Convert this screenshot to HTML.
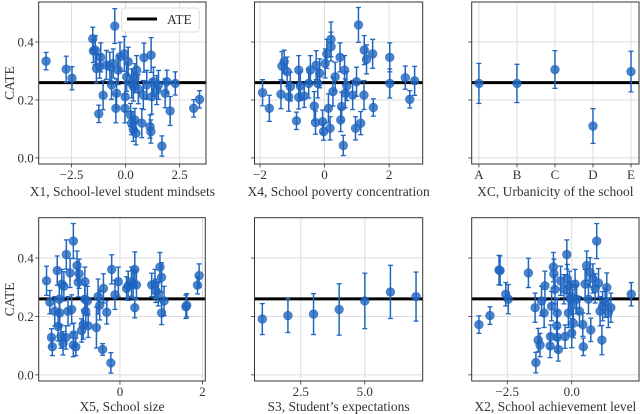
<!DOCTYPE html>
<html><head><meta charset="utf-8"><style>
body{margin:0;background:#fff}
svg{display:block;font-family:"Liberation Serif",serif}
</style></head><body>
<svg id="chart" width="640" height="414" viewBox="0 0 640 414"></svg>
<script>
const ATE = 0.26;
const yTicks = [0.0, 0.2, 0.4];
const yTickLabels = ["0.0", "0.2", "0.4"];
// [x, cate, err]
const x1Data = [[-3.68,0.334,0.03],[-2.75,0.306,0.045],[-2.48,0.275,0.04],[-1.52,0.411,0.04],[-1.49,0.369,0.04],[-1.40,0.372,0.05],[-1.35,0.309,0.05],[-1.24,0.152,0.03],[-1.20,0.315,0.04],[-1.15,0.347,0.05],[-1.04,0.216,0.05],[-0.89,0.321,0.05],[-0.73,0.315,0.05],[-0.50,0.455,0.06],[-0.57,0.326,0.05],[-0.45,0.171,0.05],[-0.42,0.223,0.05],[-0.65,0.252,0.05],[-0.34,0.303,0.05],[-0.26,0.349,0.05],[-0.06,0.359,0.06],[-0.03,0.171,0.05],[-0.02,0.211,0.05],[0.05,0.280,0.05],[0.12,0.332,0.05],[0.23,0.148,0.04],[0.28,0.120,0.04],[0.36,0.097,0.04],[0.43,0.131,0.04],[0.48,0.085,0.04],[0.28,0.257,0.05],[0.36,0.246,0.05],[0.43,0.275,0.05],[0.51,0.303,0.05],[0.59,0.237,0.05],[0.75,0.120,0.05],[0.82,0.217,0.05],[0.85,0.346,0.05],[0.98,0.252,0.05],[1.13,0.108,0.04],[1.17,0.091,0.04],[1.18,0.355,0.06],[1.21,0.211,0.06],[1.29,0.263,0.05],[1.44,0.234,0.05],[1.52,0.252,0.05],[1.68,0.041,0.035],[1.83,0.223,0.05],[1.91,0.263,0.04],[2.06,0.162,0.05],[2.30,0.257,0.04],[3.15,0.171,0.03],[3.42,0.202,0.03]];
const x4Data = [[-1.92,0.225,0.045],[-1.71,0.171,0.045],[-1.35,0.220,0.05],[-1.32,0.317,0.05],[-1.25,0.332,0.04],[-1.16,0.298,0.05],[-1.11,0.211,0.05],[-1.06,0.246,0.05],[-0.87,0.128,0.03],[-0.80,0.303,0.05],[-0.75,0.248,0.05],[-0.80,0.209,0.04],[-0.63,0.214,0.04],[-0.49,0.257,0.05],[-0.44,0.303,0.05],[-0.32,0.179,0.05],[-0.28,0.122,0.04],[-0.26,0.320,0.05],[-0.21,0.257,0.05],[-0.15,0.292,0.05],[-0.06,0.125,0.04],[-0.03,0.091,0.03],[0.02,0.326,0.05],[0.07,0.359,0.05],[0.12,0.171,0.05],[0.17,0.102,0.04],[0.20,0.409,0.06],[0.20,0.384,0.05],[0.26,0.229,0.05],[0.33,0.280,0.05],[0.48,0.347,0.05],[0.50,0.131,0.04],[0.53,0.177,0.05],[0.58,0.043,0.035],[0.62,0.303,0.05],[0.64,0.223,0.05],[0.69,0.248,0.05],[0.87,0.217,0.05],[0.99,0.263,0.05],[0.96,0.102,0.04],[1.05,0.459,0.06],[1.12,0.120,0.04],[1.22,0.217,0.05],[1.23,0.372,0.05],[1.30,0.340,0.05],[1.49,0.359,0.05],[1.51,0.174,0.03],[2.02,0.347,0.05],[2.02,0.257,0.05],[2.50,0.277,0.04],[2.64,0.202,0.03],[2.79,0.266,0.05]];
const xcCategories = ["A","B","C","D","E"];
const xcValues = [0.257, 0.257, 0.305, 0.110, 0.298];
const xcErrors = [0.069, 0.066, 0.065, 0.060, 0.070];
const x5Data = [[-1.78,0.322,0.05],[-1.70,0.249,0.04],[-1.66,0.128,0.03],[-1.64,0.096,0.03],[-1.58,0.218,0.05],[-1.52,0.357,0.05],[-1.50,0.166,0.05],[-1.47,0.259,0.05],[-1.46,0.212,0.05],[-1.43,0.131,0.04],[-1.41,0.311,0.05],[-1.38,0.108,0.04],[-1.36,0.303,0.05],[-1.31,0.128,0.04],[-1.30,0.412,0.05],[-1.26,0.218,0.05],[-1.21,0.349,0.05],[-1.17,0.224,0.05],[-1.13,0.458,0.06],[-1.13,0.102,0.04],[-1.12,0.137,0.04],[-1.07,0.096,0.03],[-1.04,0.374,0.05],[-1.01,0.317,0.05],[-0.99,0.346,0.05],[-0.93,0.152,0.04],[-0.89,0.172,0.05],[-0.85,0.259,0.05],[-0.83,0.218,0.05],[-0.79,0.253,0.05],[-0.77,0.168,0.04],[-0.85,0.319,0.05],[-0.57,0.162,0.07],[-0.53,0.268,0.06],[-0.49,0.238,0.05],[-0.42,0.087,0.02],[-0.40,0.296,0.05],[-0.32,0.214,0.04],[-0.20,0.361,0.05],[-0.22,0.041,0.035],[-0.12,0.274,0.05],[-0.04,0.319,0.05],[0.16,0.296,0.04],[0.20,0.305,0.05],[0.28,0.319,0.05],[0.32,0.311,0.05],[0.36,0.361,0.06],[0.36,0.230,0.035],[0.40,0.308,0.05],[0.77,0.308,0.04],[0.85,0.311,0.05],[0.87,0.288,0.04],[0.93,0.276,0.04],[0.97,0.369,0.05],[1.01,0.334,0.05],[1.01,0.212,0.04],[1.07,0.253,0.05],[1.60,0.233,0.04],[1.62,0.238,0.04],[1.88,0.307,0.03],[1.92,0.340,0.04]];
const s3Levels = [1,2,3,4,5,6,7];
const s3Values = [0.191,0.203,0.208,0.224,0.253,0.284,0.268];
const s3Errors = [0.053,0.058,0.070,0.088,0.095,0.091,0.084];
const x2Data = [[-3.60,0.172,0.03],[-3.17,0.203,0.03],[-2.82,0.359,0.05],[-2.78,0.357,0.05],[-2.56,0.276,0.04],[-2.46,0.259,0.05],[-1.68,0.349,0.05],[-1.42,0.230,0.05],[-1.39,0.042,0.035],[-1.30,0.119,0.04],[-1.23,0.102,0.04],[-1.17,0.253,0.05],[-1.07,0.212,0.05],[-1.04,0.305,0.05],[-0.84,0.099,0.04],[-0.82,0.131,0.04],[-0.78,0.235,0.05],[-0.71,0.369,0.05],[-0.69,0.346,0.05],[-0.65,0.293,0.05],[-0.58,0.168,0.05],[-0.56,0.129,0.05],[-0.52,0.087,0.04],[-0.56,0.212,0.05],[-0.43,0.322,0.05],[-0.30,0.293,0.05],[-0.26,0.131,0.04],[-0.19,0.412,0.05],[-0.17,0.328,0.05],[-0.13,0.212,0.05],[-0.09,0.305,0.05],[-0.06,0.270,0.05],[-0.04,0.259,0.05],[0.00,0.143,0.05],[0.04,0.241,0.05],[0.06,0.177,0.05],[0.13,0.311,0.05],[0.19,0.259,0.05],[0.30,0.218,0.05],[0.43,0.172,0.04],[0.45,0.096,0.03],[0.52,0.311,0.05],[0.58,0.374,0.05],[0.65,0.259,0.05],[0.71,0.351,0.05],[0.74,0.154,0.04],[0.82,0.330,0.05],[0.91,0.296,0.05],[0.97,0.458,0.06],[1.04,0.314,0.05],[1.10,0.218,0.05],[1.17,0.119,0.05],[1.20,0.235,0.05],[1.30,0.247,0.05],[1.36,0.299,0.05],[1.42,0.212,0.05],[1.52,0.230,0.05],[2.31,0.276,0.04]];

const NS = "http://www.w3.org/2000/svg";
const svg = document.getElementById("chart");
function mk(tag, attrs, parent){const e=document.createElementNS(NS,tag);for(const k in attrs)e.setAttribute(k,attrs[k]);(parent||svg).appendChild(e);return e;}

const panels = [
 {name:"x1", L:38.7,R:206,T:2,B:164,lb:196,xd:[-4.02,3.72],ticks:[-2.5,0,2.5],tl:["\u22122.5","0.0","2.5"],label:"X1, School-level student mindsets",ylab:true,legend:true},
 {name:"x4", L:254.5,R:422.7,T:2,B:164,lb:196,xd:[-2.17,3.04],ticks:[-2,0,2],tl:["\u22122","0","2"],label:"X4, School poverty concentration"},
 {name:"xc", L:471.7,R:639,T:2,B:164,lb:196,xd:[-0.19,4.21],ticks:[0,1,2,3,4],tl:xcCategories,label:"XC, Urbanicity of the school"},
 {name:"x5", L:38.7,R:205.3,T:217.7,B:381,lb:411,xd:[-1.97,2.07],ticks:[0,2],tl:["0","2"],label:"X5, School size",ylab:true},
 {name:"s3", L:254.5,R:422.7,T:217.7,B:381,lb:411,xd:[0.695,7.26],ticks:[2.5,5],tl:["2.5","5.0"],label:"S3, Student\u2019s expectations"},
 {name:"x2", L:471.7,R:639,T:217.7,B:381,lb:411,xd:[-3.88,2.61],ticks:[-2.5,0],tl:["\u22122.5","0.0"],label:"X2, School achievement level"}
];
const series = {
 x1:x1Data, x4:x4Data, x5:x5Data, x2:x2Data,
 xc:xcValues.map((v,i)=>[i,v,xcErrors[i]]),
 s3:s3Values.map((v,i)=>[s3Levels[i],v,s3Errors[i]])
};
const yd=[-0.021,0.538];
panels.forEach(p=>{
 const g=mk("g",{});
 
 
 const sx=v=>p.L+(v-p.xd[0])/(p.xd[1]-p.xd[0])*(p.R-p.L);
 const sy=v=>p.B-(v-yd[0])/(yd[1]-yd[0])*(p.B-p.T);
 yTicks.forEach((t,i)=>{
  const l=mk("line",{x1:p.L,x2:p.R,y1:sy(t),y2:sy(t),stroke:"#dddddd","stroke-width":1},g);
  
  
  mk("line",{x1:p.L-3.5,x2:p.L,y1:sy(t),y2:sy(t),stroke:"#333","stroke-width":0.8},g);
  if(p.ylab){const tx=mk("text",{x:p.L-5,y:sy(t)+4.5,"text-anchor":"end","font-size":"13",fill:"#333"},g);tx.textContent=yTickLabels[i];
   
   }
 });
 p.ticks.forEach((t,i)=>{
  const x=sx(t);
  mk("line",{x1:x,x2:x,y1:p.T,y2:p.B,stroke:"#dddddd","stroke-width":1},g);
  mk("line",{x1:x,x2:x,y1:p.B,y2:p.B+3.5,stroke:"#333","stroke-width":0.8},g);
  const tx=mk("text",{x:x,y:p.B+15,"text-anchor":"middle","font-size":"13",fill:"#333"},g);tx.textContent=p.tl[i];
  
  
 });
 const ate=mk("line",{x1:p.L,x2:p.R,y1:sy(ATE),y2:sy(ATE),stroke:"#000","stroke-width":3},g);
 
 
 series[p.name].forEach(d=>{
  const x=sx(d[0]),y=sy(d[1]),y1=sy(d[1]-d[2]),y2=sy(d[1]+d[2]);
  const pg=mk("g",{},g);
  
  
  mk("line",{x1:x,x2:x,y1:y1,y2:y2,stroke:"#1f66c1","stroke-width":1.5},pg);
  mk("line",{x1:x-2.5,x2:x+2.5,y1:y1,y2:y1,stroke:"#1f66c1","stroke-width":1.3},pg);
  mk("line",{x1:x-2.5,x2:x+2.5,y1:y2,y2:y2,stroke:"#1f66c1","stroke-width":1.3},pg);
  mk("circle",{cx:x,cy:y,r:4.3,fill:"#2166c0","fill-opacity":0.8,stroke:"#1a5fb8","stroke-opacity":0.7,"stroke-width":0.8},pg);
 });
 const fr=mk("rect",{x:p.L,y:p.T,width:p.R-p.L,height:p.B-p.T,fill:"none",stroke:"#333","stroke-width":1},g);
 
 
 const xl=mk("text",{x:(p.L+p.R)/2,y:p.lb,"text-anchor":"middle","font-size":"13.5",fill:"#333"},g);
 xl.textContent=p.label;
 
 
 if(p.ylab){
  const cy=(p.T+p.B)/2;
  const yl=mk("text",{x:14,y:cy,"text-anchor":"middle","font-size":"13.5",fill:"#333",transform:`rotate(-90 14 ${cy})`},g);
  yl.textContent="CATE";
  
  
 }
 if(p.legend){
  const lg=mk("g",{},g);
  
  
  mk("rect",{x:121.7,y:8,width:77.6,height:24,rx:3,fill:"#fff","fill-opacity":0.85,stroke:"#ddd"},lg);
  mk("line",{x1:127,x2:157,y1:19,y2:19,stroke:"#000","stroke-width":3},lg);
  const lt=mk("text",{x:167,y:24,"font-size":"13.5",fill:"#333"},lg);
  lt.textContent="ATE";
  
  
 }
});
</script>
</body></html>
